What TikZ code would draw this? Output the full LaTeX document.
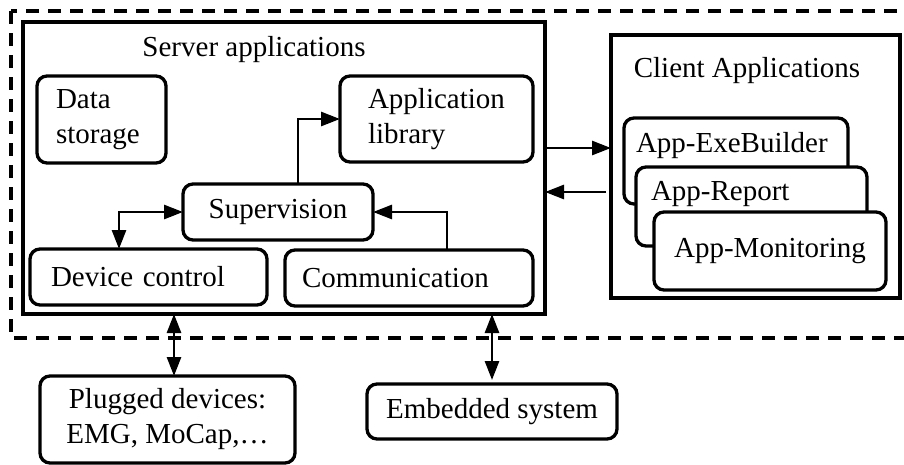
\documentclass[tikz,border=0pt]{standalone}
\usepackage{fontspec}
\setmainfont{Liberation Serif}
\usetikzlibrary{arrows.meta}

\begin{document}
\begin{tikzpicture}[x=1pt,y=-1pt]
  \tikzset{blk/.style={draw, rounded corners=10pt, line width=3.3pt, fill=white,
      inner sep=0pt, outer sep=0pt, anchor=north west},
    frame/.style={draw, line width=3.3pt, inner sep=0pt, outer sep=0pt, anchor=north west},
    arrow/.style={line width=2.8pt, -{Triangle[length=19pt,width=14pt]}},
    both/.style={line width=2.8pt, {Triangle[length=19pt,width=14pt]}-{Triangle[length=19pt,width=14pt]}}}
  \clip (0,0) rectangle (904,464);
  \fill[white] (0,0) rectangle (904,464);
  \begin{scope}[font=\fontsize{29}{35}\selectfont]
  \draw[line width=3.4pt, dash pattern=on 13pt off 9pt] (11,11) rectangle (930,338);
  \node[frame, minimum width=522pt, minimum height=292pt] (server) at (23,22) {};
  \node[anchor=base] (stitle) at (254,56) {Server applications};
  \node[frame, minimum width=289pt, minimum height=263pt] (client) at (611,35) {};
  \node[anchor=base] (ctitle) at (747,77) {Client Applications};
  \node[blk, text width=91pt, inner xsep=19pt, minimum height=87pt, align=left] (data) at (37,76) {Data\\storage};
  \node[blk, text width=137pt, inner xsep=28pt, minimum height=86pt, align=left] (applib) at (340,76) {Application\\library};
  \node[blk, minimum width=190pt, minimum height=56pt] (sup) at (183,184) {Supervision};
  \node[blk, text width=195pt, inner xsep=21pt, minimum height=56pt, align=left] (dev) at (30,249) {Device control};
  \node[blk, text width=214pt, inner xsep=17pt, minimum height=56pt, align=left] (comm) at (285,250) {Communication};
  \node[blk, text width=200pt, inner xsep=12pt, text height=34pt, text depth=52pt, align=left] (exe) at (624,118) {App-ExeBuilder};
  \node[blk, text width=201pt, inner xsep=15pt, text height=33pt, text depth=46pt, align=left] (report) at (636,167) {App-Report};
  \node[blk, minimum width=232pt, minimum height=78pt] (monitor) at (654,212) {App-Monitoring};
  \node[blk, minimum width=255pt, minimum height=87pt, align=center] (plugged) at (40,376) {Plugged devices:\\EMG, MoCap,\dots};
  \node[blk, minimum width=250pt, minimum height=55pt] (embedded) at (367,384) {Embedded system};
  \end{scope}
  \coordinate (out) at ([yshift=20pt]server.east);
  \coordinate (back) at ([yshift=-24pt]server.east);
  \draw[arrow] ([xshift=20pt]sup.north) |- (applib.west);
  \draw[both] (sup.west) -| ([xshift=-29.5pt]dev.north);
  \draw[arrow] ([xshift=38pt]comm.north) |- (sup.east);
  \draw[arrow] (out) -- (out -| client.west);
  \draw[arrow] ([xshift=-5pt]back -| client.west) -- (back);
  \draw[both] ([xshift=6.5pt]plugged.north) -- ([xshift=6.5pt]plugged.north |- server.south);
  \draw[both] ([yshift=4pt]embedded.north) -- (embedded.north |- server.south);
\end{tikzpicture}
\end{document}
